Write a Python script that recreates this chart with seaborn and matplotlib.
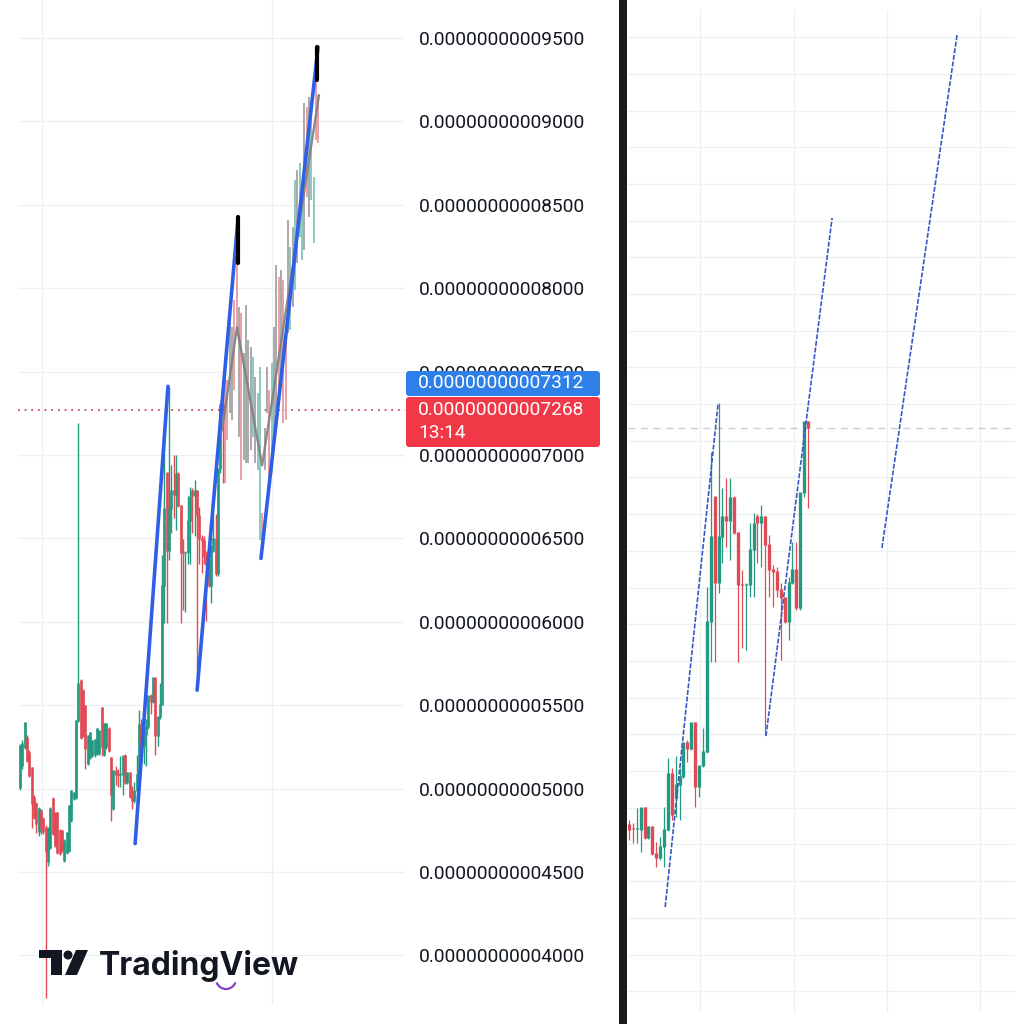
import numpy as np
import seaborn as sns
import matplotlib.pyplot as plt
from matplotlib.patches import Rectangle, Polygon, Circle, FancyBboxPatch, Arc

# prices in units of 1e-14
pre_open = [5006, 5138, 5246, 5306, 5216, 5126, 4946, 4910, 4740, 4868, 4820, 4766, 4560, 4646,
            4940, 4850, 4856, 4748, 4748, 4568, 4616, 4628, 4808, 4940, 4946, 5408, 5648, 5588,
            5498, 5150, 5186, 5198, 5200, 5210, 5210, 5486, 5200, 5250, 5360, 5186, 4880]
pre_high = [5270, 5290, 5400, 5320, 5230, 5130, 4960, 4920, 4890, 4880, 4830, 4780, 4770, 4890,
            4950, 4860, 4860, 4760, 4750, 4700, 4740, 4900, 4990, 4980, 5410, 7190, 5660, 5600,
            5500, 5320, 5340, 5290, 5295, 5365, 5350, 5490, 5395, 5395, 5370, 5190, 5110]
pre_low = [4990, 5120, 5240, 5160, 5070, 4766, 4820, 4736, 4718, 4730, 4730, 3746, 4538, 4640,
           4720, 4650, 4610, 4600, 4620, 4560, 4610, 4620, 4800, 4930, 4940, 5400, 5300, 5310,
           5120, 5140, 5180, 5190, 5190, 5200, 5200, 5198, 5195, 5240, 5220, 4808, 4870]
pre_close = [5258, 5270, 5396, 5168, 5078, 4910, 4826, 4790, 4880, 4760, 4740, 4620, 4760, 4880,
             4730, 4658, 4616, 4610, 4628, 4688, 4736, 4898, 4988, 4976, 5408, 5630, 5306, 5318,
             5240, 5318, 5336, 5288, 5290, 5360, 5348, 5250, 5390, 5390, 5228, 4960, 5108]

# candles visible on both charts
open_ = [5106, 5084, 5084, 5079, 5198, 5035, 5095, 4948, 4926, 4986, 5079, 5384, 5253, 5324,
         5367, 5553, 5520, 5662, 5313, 5427, 5504, 6212, 6893, 6425, 6675, 6784, 6763, 6888,
         6697, 6414, 6412, 6414, 6605, 6784, 6752, 6784, 6632, 6496, 6485, 6386, 6343, 6212,
         6425, 6496, 6288, 6915, 7302]
high = [5133, 5117, 5198, 5198, 5205, 5100, 5100, 5013, 5040, 5204, 5471, 5417, 5482, 5417,
        5553, 5569, 5662, 5665, 5427, 5634, 6403, 7139, 6893, 7406, 6943, 6997, 6997, 6900,
        6700, 6496, 6425, 6752, 6806, 6800, 6850, 6790, 6686, 6523, 6512, 6425, 6350, 6458,
        6648, 6648, 6915, 7302, 7310]
low = [5024, 5008, 5008, 4959, 5030, 5030, 4945, 4877, 4915, 4877, 5075, 5133, 5150, 5133,
       5360, 5449, 5515, 5204, 5258, 5420, 5500, 5994, 5994, 6370, 6534, 6621, 6550, 6690,
       5994, 6071, 6060, 6348, 6348, 6534, 6512, 5596, 6348, 6294, 6348, 6005, 6207, 6114,
       6420, 6277, 6277, 6893, 6834]
close = [5079, 5082, 5086, 5198, 5035, 5095, 4948, 4926, 4986, 5079, 5384, 5160, 5324, 5367,
         5553, 5520, 5662, 5313, 5427, 5504, 6212, 6675, 6425, 6675, 6784, 6763, 6888, 6697,
         6414, 6412, 6414, 6605, 6746, 6752, 6784, 6632, 6496, 6485, 6386, 6343, 6212, 6425,
         6496, 6288, 6915, 7302, 7268]

# faded projected bars on the left chart
ghost_high = [7490, 7448, 7868, 7766, 7928, 8150, 7886, 7850, 7610, 7898, 7688, 7646, 7586, 7466,
              7370, 7526, 6650, 7160, 7526, 7388, 7550, 7766, 8138, 8066, 8108, 8048, 7688, 8408,
              8246, 8366, 8648, 8708, 8750, 8528, 9110, 9086, 9146, 9008, 8666, 9248, 9158]
ghost_low = [6830, 7088, 7250, 7208, 7388, 7748, 7106, 6848, 6968, 6950, 6950, 7028, 7106, 6950,
             6908, 6488, 6386, 6908, 7250, 6848, 6890, 7070, 7250, 7370, 7406, 7190, 7208, 7730,
             7748, 7886, 7988, 8150, 8306, 8168, 8228, 8546, 8426, 8528, 8270, 8888, 8870]
ghost_kind = ["r", "r", "n", "n", "r", "r", "n", "r", "n", "n", "n", "n", "g", "n",
              "g", "g", "r", "n", "n", "r", "g", "n", "n", "r", "n", "r", "r", "n",
              "g", "n", "g", "n", "g", "g", "n", "r", "n", "g", "g", "r", "r"]

left_trend_x = [(49.4, 63.5), (76.0, 93.6), (103.4, 127.9)]
left_trend_y = [(4670, 7412), (5590, 8427), (6380, 9446)]
right_trend_x = [(50.3, 63.9), (76.2, 93.2), (106.0, 125.3)]
right_trend_y = [(4659, 7406), (5591, 8414), (6616, 9411)]
black_x = [93.6, 127.6]
black_y = [(8427, 8150), (9446, 9248)]
zigzag_x = [86.7, 93.1, 103.9, 128.3]
zigzag_y = [7148, 7766, 6938, 9158]

left_ticks = list(range(4000, 9501, 500))
right_ticks = list(range(4200, 9401, 200))
left_vgrid = [9.4, 108.2]
right_vgrid = [59.3, 83.3, 107.3, 131.3]
ask_price = 7312
last_price = 7268
countdown = "13:14"

O = np.array(pre_open + open_)
H = np.array(pre_high + high)
L = np.array(pre_low + low)
C = np.array(pre_close + close)
idx = np.arange(len(O))
first_shared = len(pre_open)
ghost_idx = np.arange(len(O), len(O) + len(ghost_high))

sns.set_theme(style="white")
plt.rcParams["font.family"] = ["Roboto", "DejaVu Sans"]

W = 1024
fig = plt.figure(figsize=(10.24, 10.24), dpi=100)
fig.patch.set_facecolor("white")


def px_rect(x0, y0, x1, y1):
    return [x0 / W, 1 - y1 / W, (x1 - x0) / W, (y1 - y0) / W]


GREEN = "#23997f"
RED = "#e04a55"
GRID = "#eef0f3"


def draw_candles(ax, xs, o, h, l, c, body_lw, wick_lw):
    up = c >= o
    cols = np.where(up, GREEN, RED)
    ax.vlines(xs, l, h, colors=cols, lw=wick_lw, zorder=3)
    ax.vlines(xs, np.minimum(o, c), np.maximum(o, c) + 6, colors=cols, lw=body_lw, zorder=3)


# ---------------- left chart ----------------
axl = fig.add_axes(px_rect(18, 0, 405, 1005))
axl.set_xlim(-0.86, 165.2)
axl.set_ylim(3702.6, 9727.8)
for v in left_ticks:
    axl.axhline(v, color=GRID, lw=1.0, zorder=0)
for x in left_vgrid:
    axl.axvline(x, color=GRID, lw=1.0, zorder=0)

gcol = {"g": "#8fc8be", "r": "#eaa0a7", "n": "#a9a9a9"}
axl.vlines(ghost_idx, ghost_low, ghost_high, colors=[gcol[k] for k in ghost_kind], lw=1.4, zorder=2)
sns.lineplot(x=zigzag_x, y=zigzag_y, ax=axl, color="#808080", lw=1.7, sort=False, zorder=4, alpha=0.9)
draw_candles(axl, idx, O, H, L, C, 1.9, 1.0)

for xs, ys in zip(left_trend_x, left_trend_y):
    sns.lineplot(x=list(xs), y=list(ys), ax=axl, color="#2f5fe6", lw=2.6, sort=False, zorder=5,
                 solid_capstyle="round")
for x, ys in zip(black_x, black_y):
    axl.plot([x, x], ys, color="black", lw=3.0, zorder=6, solid_capstyle="round")

axl.axhline(last_price, color="#b0353f", lw=1.2, ls=(0, (1, 3)), zorder=1)

axl.yaxis.tick_right()
axl.set_yticks(left_ticks)
axl.set_yticklabels([f"{v * 1e-14:.14f}" for v in left_ticks])
axl.tick_params(axis="y", length=0, pad=10, labelsize=13.8, labelcolor="#131722")
axl.set_xticks([])
for s in axl.spines.values():
    s.set_visible(False)
axl.patch.set_alpha(0)

# price labels (drawn over the 7500 tick label, as on the source chart)
tr = fig.transFigure
fig.patches.append(FancyBboxPatch((406 / W, 1 - 396 / W), 194 / W, 25 / W,
                                  boxstyle="round,pad=0,rounding_size=0.003",
                                  transform=tr, fc="#2e80e8", ec="none", zorder=5))
fig.patches.append(FancyBboxPatch((406 / W, 1 - 447 / W), 194 / W, 50 / W,
                                  boxstyle="round,pad=0,rounding_size=0.003",
                                  transform=tr, fc="#f03847", ec="none", zorder=5))
fig.text(418 / W, 1 - 383 / W, f"{ask_price * 1e-14:.14f}", color="white", fontsize=13.8,
         va="center", ha="left", zorder=6)
fig.text(418 / W, 1 - 410 / W, f"{last_price * 1e-14:.14f}", color="white", fontsize=13.8,
         va="center", ha="left", zorder=6)
fig.text(418 / W, 1 - 433 / W, countdown, color="white", fontsize=13.8,
         va="center", ha="left", zorder=6)

# TradingView logo
logo = "#131722"
fig.patches.append(Rectangle((39 / W, 1 - 958 / W), 23 / W, 8 / W, transform=tr, fc=logo, ec="none"))
fig.patches.append(Rectangle((51 / W, 1 - 975 / W), 11 / W, 25 / W, transform=tr, fc=logo, ec="none"))
fig.patches.append(Circle((68 / W, 1 - 955 / W), 4.5 / W, transform=tr, fc=logo, ec="none"))
fig.patches.append(Polygon([(65 / W, 1 - 975 / W), (77 / W, 1 - 975 / W), (88 / W, 1 - 950 / W),
                            (76 / W, 1 - 950 / W)], closed=True, transform=tr, fc=logo, ec="none"))
fig.text(99 / W, 1 - 975 / W, "TradingView", color=logo, fontsize=23, fontweight="bold",
         family=["Inter", "DejaVu Sans"], va="baseline", ha="left")
fig.patches.append(Arc((226 / W, 1 - 979 / W), 20 / W, 20 / W, theta1=200, theta2=340,
                       transform=tr, color="#8a3fc7", lw=1.6))

# divider
fig.patches.append(Rectangle((619 / W, 0), 8 / W, 1, transform=tr, fc="#1b1b1b", ec="none", zorder=10))

# ---------------- right chart ----------------
axr = fig.add_axes(px_rect(628, 10, 1015, 1013))
axr.set_xlim(40.74, 140.2)
axr.set_ylim(4081.7, 9547.7)
for v in right_ticks:
    axr.axhline(v, color=GRID, lw=1.0, zorder=0)
for x in right_vgrid:
    axr.axvline(x, color=GRID, lw=1.0, zorder=0)
sl = slice(first_shared, len(O))
draw_candles(axr, idx[sl], O[sl], H[sl], L[sl], C[sl], 2.4, 0.9)
axr.axhline(C[-1], color="#c9ccd3", lw=1.0, ls=(0, (5, 4)), zorder=1)
for xs, ys in zip(right_trend_x, right_trend_y):
    sns.lineplot(x=list(xs), y=list(ys), ax=axr, color="#3a58c4", lw=1.2, sort=False, zorder=5,
                 ls=(0, (3, 1)))
axr.set_xticks([])
axr.set_yticks([])
for s in axr.spines.values():
    s.set_visible(False)
axr.patch.set_alpha(0)

fig.savefig("out.png", dpi=100, facecolor="white")
